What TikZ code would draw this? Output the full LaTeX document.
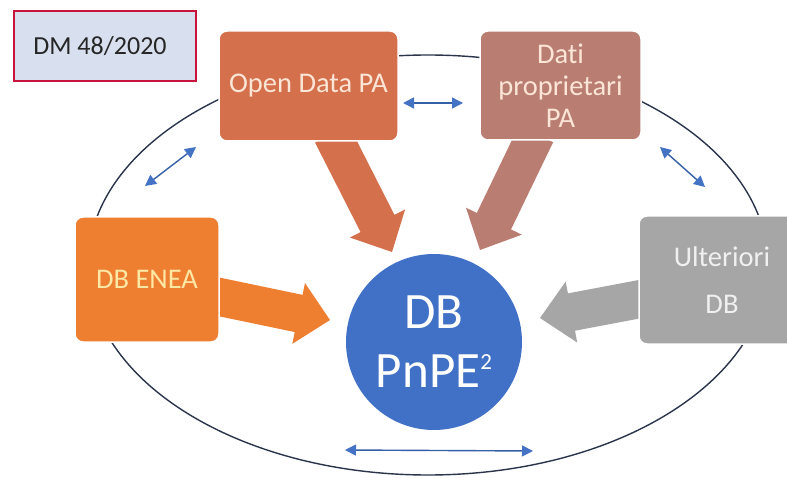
\documentclass[tikz,border=0pt]{standalone}
\usepackage{fontspec}
\setmainfont{Carlito}[RawFeature={-liga}]
\usetikzlibrary{calc,arrows.meta}

\definecolor{odfill}{HTML}{D4704C}
\definecolor{datifill}{HTML}{BA7D72}
\definecolor{eneafill}{HTML}{EE7E30}
\definecolor{ultfill}{HTML}{A6A6A6}
\definecolor{dbfill}{HTML}{4171C6}
\definecolor{dmfill}{HTML}{D8DFEE}
\definecolor{dmline}{HTML}{C8143C}
\definecolor{ringline}{HTML}{2A354C}
\definecolor{linkline}{HTML}{3560A8}
\definecolor{linktip}{HTML}{4472C4}
\definecolor{creamtext}{HTML}{FBE5D6}
\definecolor{yellowtext}{HTML}{FFE8A6}
\definecolor{greytext}{HTML}{F0F0F0}

% thick block arrow from #1 to #2 in colour #3
\newcommand\blockarrow[3]{%
  \fill[#3] let \p1=(#1), \p2=(#2),
      \n1={atan2(\y2-\y1,\x2-\x1)},
      \n2={veclen(\x2-\x1,\y2-\y1)-32pt} in
    ($(\p1)+(\n1+90:19pt)$)
    -- ($(\p1)+(\n1:\n2)+(\n1+90:19pt)$)
    -- ($(\p1)+(\n1:\n2)+(\n1+90:31pt)$)
    -- (\p2)
    -- ($(\p1)+(\n1:\n2)+(\n1-90:31pt)$)
    -- ($(\p1)+(\n1:\n2)+(\n1-90:19pt)$)
    -- ($(\p1)+(\n1-90:19pt)$) -- cycle;}

\begin{document}
\begin{tikzpicture}[x=1pt,y=-1pt,
  srcbox/.style={rectangle, rounded corners=8pt, draw=white, line width=1.5pt,
    align=center, inner sep=0pt, font=\fontsize{28.5}{32}\selectfont},
  link/.style={draw=linkline, line width=1.4pt,
    {Triangle[length=11pt,width=11pt,color=linktip]}-{Triangle[length=11pt,width=11pt,color=linktip]}}]

\useasboundingbox (0,0) rectangle (787,478);
\fill[white] (0,0) rectangle (787,478);

% outer ring
\draw[ringline, line width=1.4pt] (428,265) ellipse [x radius=340pt, y radius=210pt];

% central database
\node[circle, fill=dbfill, minimum size=176pt, inner sep=0pt, text=white, align=center,
  font=\fontsize{51}{59}\selectfont] (db) at (434,342)
  {DB\\PnPE\raisebox{18pt}{\fontsize{23}{23}\selectfont 2}};

% arrow end points
\coordinate (odS) at (332,134);
\coordinate (odT) at (392,252);
\coordinate (datiS) at (536,134);
\coordinate (datiT) at (480,250);
\coordinate (eneaS) at (210,295);
\coordinate (eneaT) at (330,320);
\coordinate (ultS) at (651,297);
\coordinate (ultT) at (540,318);

\blockarrow{odS}{odT}{odfill}
\blockarrow{datiS}{datiT}{datifill}
\blockarrow{eneaS}{eneaT}{eneafill}
\blockarrow{ultS}{ultT}{ultfill}

% data sources
\node[srcbox, fill=odfill, text=creamtext, minimum width=179pt, minimum height=110pt]
  (od) at (308.5,86) {Open Data PA};
\node[srcbox, fill=datifill, text=creamtext, minimum width=161pt, minimum height=109pt]
  (dati) at (560.5,85.5) {Dati\\proprietari\\PA};
\node[srcbox, fill=eneafill, text=yellowtext, minimum width=144pt, minimum height=125pt]
  (enea) at (147,279.5) {DB ENEA};
\node[srcbox, fill=ultfill, text=greytext, minimum width=166pt, minimum height=128pt,
  font=\fontsize{28.5}{47}\selectfont]
  (ult) at (722,280) {Ulteriori\\DB};

% decree label
\node[rectangle, draw=dmline, fill=dmfill, line width=1.5pt,
  minimum width=182pt, minimum height=70pt] (dm) at (105,46) {};
\node[font=\fontsize{26}{30}\selectfont, text=black!85, inner sep=0pt]
  (dmtext) at ($(dm.center)+(-5,0)$) {DM 48/2020};

% exchange links
\coordinate (l1a) at (403,103); \coordinate (l1b) at (463,103);
\coordinate (l2a) at (145,186); \coordinate (l2b) at (196,147);
\coordinate (l3a) at (660,147); \coordinate (l3b) at (705,187);
\coordinate (l4a) at (345,450); \coordinate (l4b) at (533,451);
\draw[link] (l1a) -- (l1b);
\draw[link] (l2a) -- (l2b);
\draw[link] (l3a) -- (l3b);
\draw[link] (l4a) -- (l4b);
\end{tikzpicture}
\end{document}
